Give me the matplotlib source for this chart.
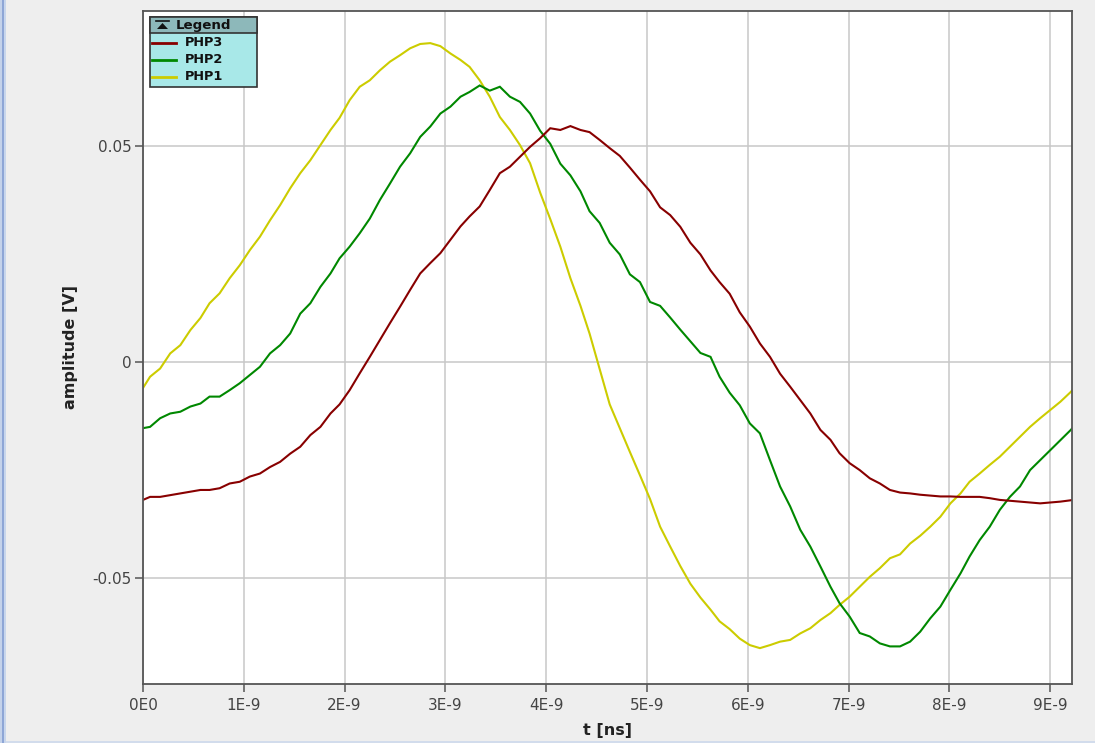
import matplotlib
matplotlib.use("Agg")
import matplotlib.pyplot as plt
from matplotlib.patches import Rectangle, Polygon
from matplotlib.lines import Line2D

W, H = 1095, 743

# time axis (ns)
t_ns = [0.00, 0.07, 0.17, 0.27, 0.37, 0.47, 0.57, 0.66, 0.76, 0.86, 0.96,
        1.06, 1.16, 1.26, 1.36, 1.46, 1.56, 1.66, 1.76, 1.86, 1.95,
        2.05, 2.15, 2.25, 2.35, 2.45, 2.55, 2.65, 2.75, 2.85, 2.95,
        3.05, 3.15, 3.24, 3.34, 3.44, 3.54, 3.64, 3.74, 3.84, 3.94,
        4.04, 4.14, 4.24, 4.34, 4.43, 4.53, 4.63, 4.73, 4.83, 4.93,
        5.03, 5.13, 5.23, 5.33, 5.43, 5.53, 5.63, 5.72, 5.82, 5.92,
        6.02, 6.12, 6.22, 6.32, 6.42, 6.52, 6.62, 6.72, 6.82, 6.91,
        7.01, 7.11, 7.21, 7.31, 7.41, 7.51, 7.61, 7.71, 7.81, 7.91,
        8.01, 8.11, 8.20, 8.30, 8.40, 8.50, 8.60, 8.70, 8.80, 8.90,
        9.00, 9.10, 9.20, 9.22]

php1 = [-0.0060, -0.0034, -0.0015, 0.0020, 0.0039, 0.0074, 0.0102, 0.0136, 0.0159, 0.0194, 0.0224,
        0.0259, 0.0290, 0.0328, 0.0363, 0.0402, 0.0437, 0.0467, 0.0502, 0.0537, 0.0565,
        0.0606, 0.0637, 0.0652, 0.0675, 0.0695, 0.0710, 0.0726, 0.0736, 0.0738, 0.0731,
        0.0714, 0.0699, 0.0683, 0.0652, 0.0614, 0.0567, 0.0537, 0.0502, 0.0460, 0.0392,
        0.0331, 0.0267, 0.0194, 0.0130, 0.0066, -0.0016, -0.0098, -0.0153, -0.0208, -0.0262,
        -0.0317, -0.0381, -0.0427, -0.0472, -0.0513, -0.0545, -0.0573, -0.0600, -0.0618, -0.0640,
        -0.0655, -0.0662, -0.0655, -0.0647, -0.0643, -0.0628, -0.0616, -0.0597, -0.0581, -0.0562,
        -0.0543, -0.0520, -0.0497, -0.0477, -0.0454, -0.0445, -0.0420, -0.0402, -0.0381, -0.0358,
        -0.0327, -0.0304, -0.0277, -0.0258, -0.0238, -0.0219, -0.0196, -0.0173, -0.0150, -0.0130,
        -0.0111, -0.0092, -0.0070, -0.0065]

php2 = [-0.0153, -0.0150, -0.0130, -0.0119, -0.0115, -0.0103, -0.0096, -0.0080, -0.0080, -0.0065, -0.0049,
        -0.0030, -0.0011, 0.0020, 0.0039, 0.0066, 0.0112, 0.0136, 0.0174, 0.0205, 0.0240,
        0.0267, 0.0298, 0.0332, 0.0375, 0.0413, 0.0452, 0.0483, 0.0521, 0.0545, 0.0575,
        0.0591, 0.0614, 0.0625, 0.0640, 0.0628, 0.0637, 0.0614, 0.0602, 0.0575, 0.0535,
        0.0505, 0.0459, 0.0432, 0.0395, 0.0349, 0.0322, 0.0276, 0.0249, 0.0203, 0.0185,
        0.0139, 0.0130, 0.0103, 0.0075, 0.0048, 0.0021, 0.0012, -0.0034, -0.0071, -0.0100,
        -0.0142, -0.0165, -0.0227, -0.0288, -0.0334, -0.0388, -0.0427, -0.0473, -0.0520, -0.0558,
        -0.0589, -0.0627, -0.0635, -0.0651, -0.0658, -0.0658, -0.0647, -0.0624, -0.0593, -0.0566,
        -0.0527, -0.0489, -0.0450, -0.0412, -0.0381, -0.0342, -0.0312, -0.0288, -0.0250, -0.0227,
        -0.0204, -0.0181, -0.0158, -0.0153]

php3 = [-0.0319, -0.0312, -0.0312, -0.0308, -0.0304, -0.0300, -0.0296, -0.0296, -0.0292, -0.0281, -0.0277,
        -0.0265, -0.0258, -0.0243, -0.0231, -0.0212, -0.0196, -0.0169, -0.0150, -0.0119, -0.0098,
        -0.0065, -0.0026, 0.0012, 0.0051, 0.0090, 0.0128, 0.0167, 0.0205, 0.0229, 0.0252,
        0.0283, 0.0314, 0.0337, 0.0360, 0.0398, 0.0437, 0.0452, 0.0475, 0.0498, 0.0518,
        0.0541, 0.0537, 0.0546, 0.0537, 0.0532, 0.0514, 0.0495, 0.0477, 0.0450, 0.0422,
        0.0395, 0.0358, 0.0340, 0.0313, 0.0276, 0.0249, 0.0212, 0.0185, 0.0158, 0.0115,
        0.0082, 0.0043, 0.0012, -0.0027, -0.0057, -0.0088, -0.0119, -0.0157, -0.0180, -0.0211,
        -0.0234, -0.0250, -0.0269, -0.0281, -0.0296, -0.0302, -0.0304, -0.0307, -0.0309, -0.0311,
        -0.0311, -0.0312, -0.0312, -0.0312, -0.0315, -0.0319, -0.0321, -0.0323, -0.0325, -0.0327,
        -0.0325, -0.0323, -0.0320, -0.0319]

series_names = ["PHP3", "PHP2", "PHP1"]
series_colors = ["#880000", "#008800", "#CCCC00"]
x_ticks = [0, 1, 2, 3, 4, 5, 6, 7, 8, 9]
x_tick_labels = ["0E0", "1E-9", "2E-9", "3E-9", "4E-9", "5E-9", "6E-9", "7E-9", "8E-9", "9E-9"]
y_ticks = [-0.05, 0.0, 0.05]
y_tick_labels = ["-0.05", "0", "0.05"]

plt.rcParams['font.family'] = ['DejaVu Sans']

fig = plt.figure(figsize=(W / 100, H / 100), dpi=100, facecolor="#EEEEEE")


def fx(x):
    return x / W


def fy(y):
    return 1 - y / H


L, R, T, B = 143, 1072, 10.7, 684
ax = fig.add_axes([fx(L), fy(B), fx(R) - fx(L), fy(T) - fy(B)])
ax.set_facecolor("white")

series_values = {"PHP3": php3, "PHP2": php2, "PHP1": php1}
# draw PHP1 first so PHP3 stays on top as in reference
for name, col in zip(series_names[::-1], series_colors[::-1]):
    ax.plot(t_ns, series_values[name], color=col, lw=1.5, solid_joinstyle="miter")

ax.set_xlim(0, 9.216)
ax.set_ylim(-0.0745, 0.0813)
ax.set_xticks(x_ticks)
ax.set_xticklabels(x_tick_labels)
ax.set_yticks(y_ticks)
ax.set_yticklabels(y_tick_labels)
ax.grid(True, color="#C8C8C8", lw=1.1)
ax.set_axisbelow(True)
for s in ax.spines.values():
    s.set_color("#555555")
    s.set_linewidth(1.3)
ax.tick_params(axis="both", direction="out", length=6, width=1.1, color="#555555",
               labelcolor="#444444", labelsize=11)
ax.tick_params(axis="x", pad=4)
ax.tick_params(axis="y", pad=2)

fig.text(fx(607.5), fy(731), "t [ns]", ha="center", va="center", fontsize=11.5,
         fontweight="bold", color="#222222")
fig.text(fx(70), fy(347), "amplitude [V]", ha="center", va="center", fontsize=11.5,
         fontweight="bold", color="#222222", rotation=90)

# legend (drawn in pixel positions)
lx0, lx1, ly0, lyh, ly1 = 150, 257, 17, 33, 87
fig.add_artist(Rectangle((fx(lx0), fy(ly1)), fx(lx1) - fx(lx0), fy(ly0) - fy(ly1),
                         transform=fig.transFigure, facecolor="#A8E8E8",
                         edgecolor="#333333", lw=1.2, zorder=10))
fig.add_artist(Rectangle((fx(lx0), fy(lyh)), fx(lx1) - fx(lx0), fy(ly0) - fy(lyh),
                         transform=fig.transFigure, facecolor="#8DB8BA",
                         edgecolor="#333333", lw=1.2, zorder=11))
fig.add_artist(Line2D([fx(156), fx(169)], [fy(20.5), fy(20.5)], transform=fig.transFigure,
                      color="#111111", lw=1.2, zorder=12))
fig.add_artist(Polygon([(fx(157), fy(29)), (fx(168), fy(29)), (fx(162.5), fy(23))],
                       closed=True, transform=fig.transFigure, facecolor="#111111",
                       edgecolor="none", zorder=12))
fig.text(fx(176), fy(25.5), "Legend", ha="left", va="center", fontsize=9.6,
         fontweight="bold", color="#111111", zorder=12)
row_y = [42.5, 59.5, 76.5]
for name, col, yy in zip(series_names, series_colors, row_y):
    fig.add_artist(Line2D([fx(152), fx(176)], [fy(yy), fy(yy)], transform=fig.transFigure,
                          color=col, lw=2.0, zorder=12))
    fig.text(fx(185), fy(yy), name, ha="left", va="center", fontsize=9.3,
             fontweight="bold", color="#111111", zorder=12)

# window border accents
fig.add_artist(Rectangle((0, 0), fx(2), 1, transform=fig.transFigure,
                         facecolor="#C4D2EA", edgecolor="none"))
fig.add_artist(Rectangle((fx(2), 0), fx(2), 1, transform=fig.transFigure,
                         facecolor="#8EA6D6", edgecolor="none"))
fig.add_artist(Rectangle((fx(4), 0), fx(2), 1, transform=fig.transFigure,
                         facecolor="#C8D6EC", edgecolor="none"))
fig.add_artist(Rectangle((fx(6), 0), 1, fy(741), transform=fig.transFigure,
                         facecolor="#D2DCEC", edgecolor="none"))

fig.savefig("out.png", dpi=100, facecolor=fig.get_facecolor())
